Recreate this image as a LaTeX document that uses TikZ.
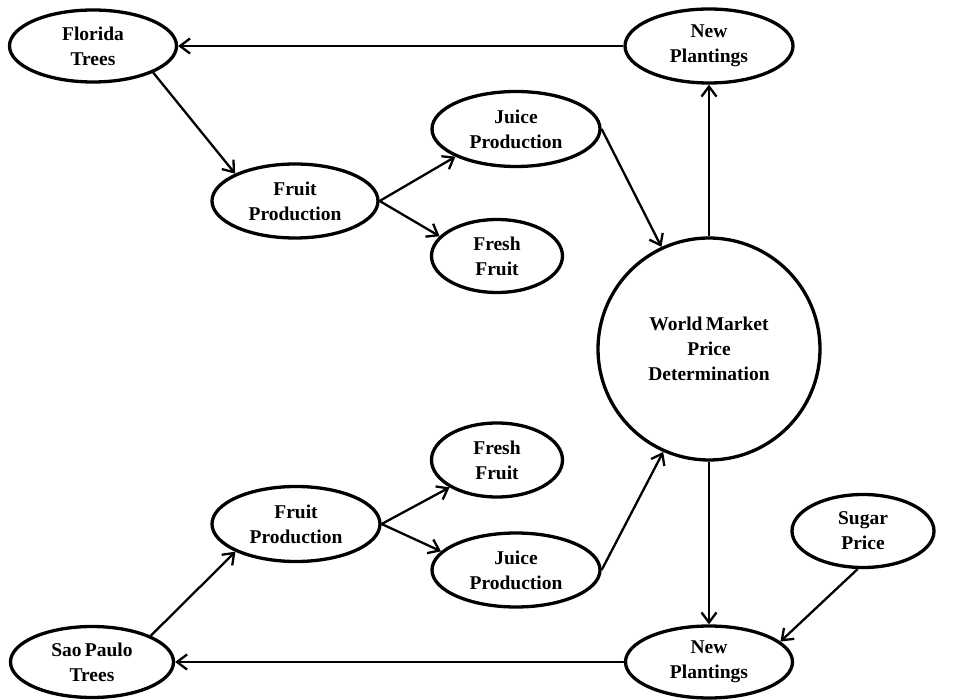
\documentclass[tikz,border=0pt]{standalone}
\usepackage{fontspec}
\setmainfont{Liberation Serif}
\usetikzlibrary{shapes.geometric,arrows.meta}
\begin{document}
\begin{tikzpicture}[x=1pt,y=-1pt,
  every node/.style={font=\bfseries\fontsize{19.5}{25}\selectfont, align=center, inner sep=0pt},
  oval/.style={draw, line width=3.3pt, ellipse},
  bigcirc/.style={draw, line width=3.3pt, circle, minimum size=222pt},
  conn/.style={line width=2.3pt, -{Straight Barb[length=10pt,width=15pt]}}]
\useasboundingbox[fill=white] (0,0) rectangle (953,700);
\node[oval, minimum width=167pt, minimum height=72pt] (FT) at (93,46) {Florida\\Trees};
\node[oval, minimum width=168pt, minimum height=74pt] (NPt) at (709,46) {New\\Plantings};
\node[oval, minimum width=166pt, minimum height=74pt] (FPt) at (295,201) {Fruit\\Production};
\node[oval, minimum width=168pt, minimum height=75pt] (JPt) at (516,129) {Juice\\Production};
\node[oval, minimum width=131pt, minimum height=73pt] (FFt) at (497,256) {Fresh\\Fruit};
\node[bigcirc] (WM) at (709,349) {World\,Market\\Price\\Determination};
\node[oval, minimum width=131pt, minimum height=74pt] (FFb) at (497,460) {Fresh\\Fruit};
\node[oval, minimum width=168pt, minimum height=75pt] (FPb) at (296,524) {Fruit\\Production};
\node[oval, minimum width=168pt, minimum height=74pt] (JPb) at (516,570) {Juice\\Production};
\node[oval, minimum width=142pt, minimum height=73pt] (SP) at (863,531) {Sugar\\Price};
\node[oval, minimum width=163pt, minimum height=71pt] (SPT) at (92,662) {Sao\,Paulo\\Trees};
\node[oval, minimum width=167pt, minimum height=72pt] (NPb) at (709,662) {New\\Plantings};

\draw[conn] (NPt.west) -- (FT.east);
\draw[conn] (FT.south east) -- (FPt.north west);
\draw[conn] (FPt.east) -- (JPt.south west);
\draw[conn] (FPt.east) -- (FFt.161);
\draw[conn] (JPt.east) -- (WM.115);
\draw[conn] (WM.north) -- (NPt.south);
\draw[conn] (SPT.north east) -- (FPb.south west);
\draw[conn] (FPb.east) -- (FFb.210);
\draw[conn] (FPb.east) -- (JPb.166);
\draw[conn] (JPb.east) -- (WM.246);
\draw[conn] (WM.south) -- (NPb.north);
\draw[conn] (SP.262) -- (NPb.16);
\draw[conn] (NPb.west) -- (SPT.east);
\end{tikzpicture}
\end{document}
